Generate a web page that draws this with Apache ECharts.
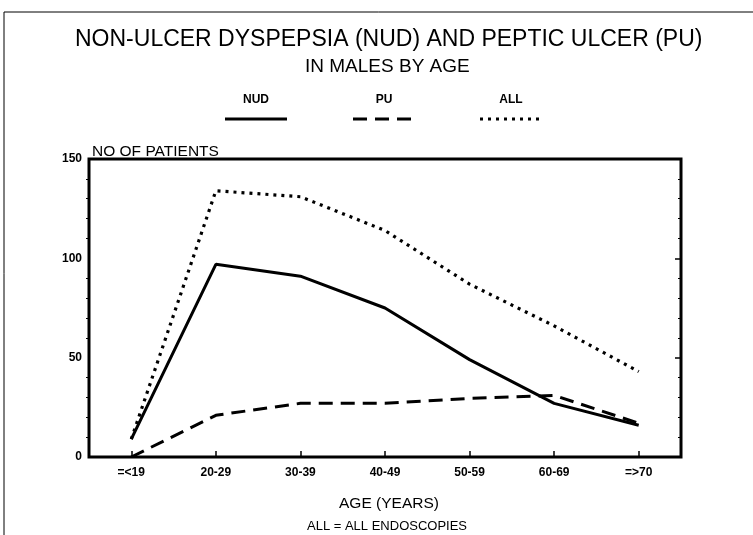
<!DOCTYPE html>
<html><head><meta charset="utf-8">
<script src="https://cdn.jsdelivr.net/npm/echarts@6/dist/echarts.min.js"></script>
<style>html,body{margin:0;padding:0;background:#fff}#c{width:753px;height:535px}</style>
</head><body><div id="c"></div>
<script>
const categories = ['=<19','20-29','30-39','40-49','50-59','60-69','=>70'];
const nud = [9, 97, 91, 75, 49, 27, 16];
const pu  = [0, 21, 27, 27, 29.5, 31, 17];
const all = [9, 134, 131, 114, 87, 66, 43];
const seriesNames = ['NUD','PU','ALL'];
const yTicks = {min: 0, max: 150, interval: 50};

const F = 'Liberation Sans, Arial, sans-serif';
const styles = [
  {type: 'solid', width: 3},
  {type: [14, 8], width: 3},
  {type: [3, 5], width: 3.2}
];
const values = [nud, pu, all];
const legendX = [256, 384, 511];

const graphics = [
  {type: 'line', shape: {x1: 4, y1: 12, x2: 753, y2: 12}, style: {stroke: '#000', lineWidth: 1}},
  {type: 'line', shape: {x1: 4, y1: 12, x2: 4, y2: 535}, style: {stroke: '#000', lineWidth: 1}}
];
seriesNames.forEach((n, i) => {
  graphics.push({type: 'text', x: legendX[i], y: 100, style: {text: n, font: 'bold 12px ' + F, fill: '#000', textAlign: 'center', textVerticalAlign: 'middle'}});
  graphics.push({type: 'line', shape: {x1: legendX[i] - 31, y1: 119, x2: legendX[i] + 31, y2: 119},
    style: {stroke: '#000', lineWidth: 3, lineDash: styles[i].type === 'solid' ? null : styles[i].type}});
});

const chart = echarts.init(document.getElementById('c'), null, {renderer: 'canvas'});
chart.setOption({
  backgroundColor: '#fff',
  animation: false,
  title: [
    {text: 'NON-ULCER DYSPEPSIA (NUD) AND PEPTIC ULCER (PU)', left: 70, top: 23,
     textStyle: {fontFamily: F, fontWeight: 'normal', fontSize: 23, color: '#000'}},
    {text: 'IN MALES BY AGE', left: 300, top: 52,
     textStyle: {fontFamily: F, fontWeight: 'normal', fontSize: 19, color: '#000'}},
    {text: 'NO OF PATIENTS', left: 87, top: 139,
     textStyle: {fontFamily: F, fontWeight: 'normal', fontSize: 15.5, color: '#000'}},
    {text: 'AGE (YEARS)', left: 334, top: 491,
     textStyle: {fontFamily: F, fontWeight: 'normal', fontSize: 15.5, color: '#000'}},
    {text: 'ALL = ALL ENDOSCOPIES', left: 302, top: 515,
     textStyle: {fontFamily: F, fontWeight: 'normal', fontSize: 13, color: '#000'}}
  ],
  grid: {left: 89, right: 72, top: 159, bottom: 78, show: true, borderColor: '#000', borderWidth: 3, backgroundColor: 'transparent'},
  xAxis: {
    type: 'category', data: categories, boundaryGap: true,
    axisLine: {show: false},
    axisTick: {show: true, inside: true, alignWithLabel: true, length: 6, lineStyle: {color: '#000', width: 1.5}},
    axisLabel: {color: '#000', fontFamily: F, fontSize: 12, fontWeight: 'bold', margin: 10},
    splitLine: {show: false}
  },
  yAxis: [
    {type: 'value', min: yTicks.min, max: yTicks.max, interval: yTicks.interval,
     axisLine: {show: false},
     axisTick: {show: false},
     minorTick: {show: true, splitNumber: 5, length: 3, lineStyle: {color: '#000', width: 1}},
     axisLabel: {color: '#000', fontFamily: F, fontSize: 12, fontWeight: 'bold', margin: 7},
     splitLine: {show: false}},
    {type: 'value', position: 'right', min: yTicks.min, max: yTicks.max, interval: yTicks.interval,
     axisLine: {show: false},
     axisTick: {show: true, inside: true, length: 6, lineStyle: {color: '#000', width: 1.5}},
     minorTick: {show: true, splitNumber: 5, length: 3, lineStyle: {color: '#000', width: 1}},
     axisLabel: {show: false},
     splitLine: {show: false}}
  ],
  series: seriesNames.map((n, i) => ({
    name: n, type: 'line', data: values[i], showSymbol: false, symbol: 'none',
    lineStyle: {color: '#000', width: styles[i].width, type: styles[i].type},
    z: 3
  })),
  graphic: graphics
});
</script></body></html>
